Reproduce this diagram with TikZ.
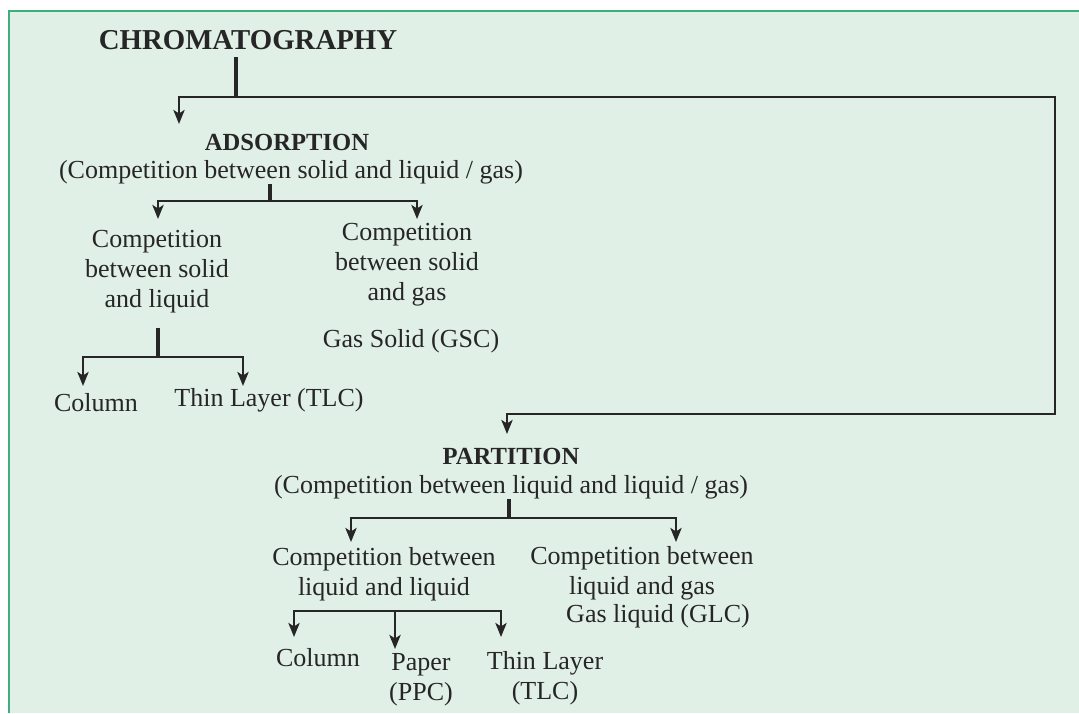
\documentclass[tikz,border=0pt]{standalone}
\usepackage{fontspec}
\setmainfont{Liberation Serif}
\usetikzlibrary{arrows.meta}
\definecolor{panelfill}{HTML}{E1F0E6}
\definecolor{panelrule}{HTML}{3FAE7F}
\definecolor{ink}{HTML}{262626}
\tikzset{
  lbl/.style={text=ink, inner sep=0pt, align=center, font=\fontsize{18.5}{21.3}\selectfont},
  head/.style={lbl, font=\fontsize{17.5}{21}\selectfont\bfseries},
  title/.style={lbl, font=\fontsize{20.5}{24}\selectfont\bfseries},
  link/.style={draw=ink, line width=1.5pt},
  stem/.style={draw=ink, line width=2.2pt},
  arr/.style={link, -{Stealth[length=10pt,width=8pt,inset=2.5pt]}},
}

\begin{document}
\begin{tikzpicture}[x=0.025cm, y=-0.025cm]
    \useasboundingbox (0,0) rectangle (1079,713);
    \fill[panelfill] (9,11) rectangle (1079,713);
    \draw[panelrule, line width=2pt] (9,713) -- (9,11) -- (1079,11);

    \node[title] (chrom) at (248,40) {CHROMATOGRAPHY};

    % adsorption branch
    \node[head] (ads) at (287,142) {ADSORPTION};
    \node[lbl] (adssub) at (291,172) {(Competition between solid and liquid / gas)};
    \node[lbl] (sliq) at (157,272) {Competition\\between solid\\and liquid};
    \node[lbl] (sgas) at (407,265) {Competition\\between solid\\and gas};
    \node[lbl] (gsc) at (411,341) {Gas Solid (GSC)};
    \node[lbl] (col1) at (96,403) {Column};
    \node[lbl] (tlc1) at (269,400) {Thin Layer (TLC)};

    % partition branch
    \node[head] (part) at (511,456) {PARTITION};
    \node[lbl] (partsub) at (511,487) {(Competition between liquid and liquid / gas)};
    \node[lbl] (lliq) at (384,574) {Competition between\\liquid and liquid};
    \node[lbl] (lgas) at (642,573) {Competition between\\liquid and gas};
    \node[lbl] (glc) at (658,616) {Gas liquid (GLC)};
    \node[lbl] (col2) at (318,658) {Column};
    \node[lbl] (ppc) at (421,680) {Paper\\(PPC)};
    \node[lbl] (tlc2) at (545,678) {Thin Layer\\(TLC)};

    \coordinate (c0) at (236,97);
    \coordinate (adsin) at (179,124);
    \coordinate (rc) at (1055,414);
    \coordinate (partin) at (507,434);
    \draw[stem, shorten <=5pt] (chrom.south -| c0) -- (c0);
    \draw[arr] (c0) -| (adsin);
    \draw[arr] (c0) -| (rc) -| (partin);

    \coordinate (a0) at (270,201);
    \coordinate (sliqin) at (158,219);
    \coordinate (sgasin) at (417,219);
    \draw[stem] (adssub.south -| a0) -- (a0);
    \draw[arr] (a0) -| (sliqin);
    \draw[arr] (a0) -| (sgasin);

    \coordinate (b0) at (158,357);
    \coordinate (col1in) at (83,386);
    \coordinate (tlc1in) at (243,386);
    \draw[stem, shorten <=10pt] (sliq.south -| b0) -- (b0);
    \draw[arr] (b0) -| (col1in);
    \draw[arr] (b0) -| (tlc1in);

    \coordinate (p0) at (509,518);
    \coordinate (lliqin) at (351,542);
    \coordinate (lgasin) at (676,542);
    \draw[stem] (partsub.south -| p0) -- (p0);
    \draw[arr] (p0) -| (lliqin);
    \draw[arr] (p0) -| (lgasin);

    \coordinate (q0) at (395,611);
    \coordinate (col2in) at (294,637);
    \coordinate (ppcin) at (395,649);
    \coordinate (tlc2in) at (501,637);
    \draw[arr] (q0) -| (col2in);
    \draw[arr] (q0) -| (tlc2in);
    \draw[arr, line width=2pt] (q0) -- (ppcin);
\end{tikzpicture}
\end{document}
